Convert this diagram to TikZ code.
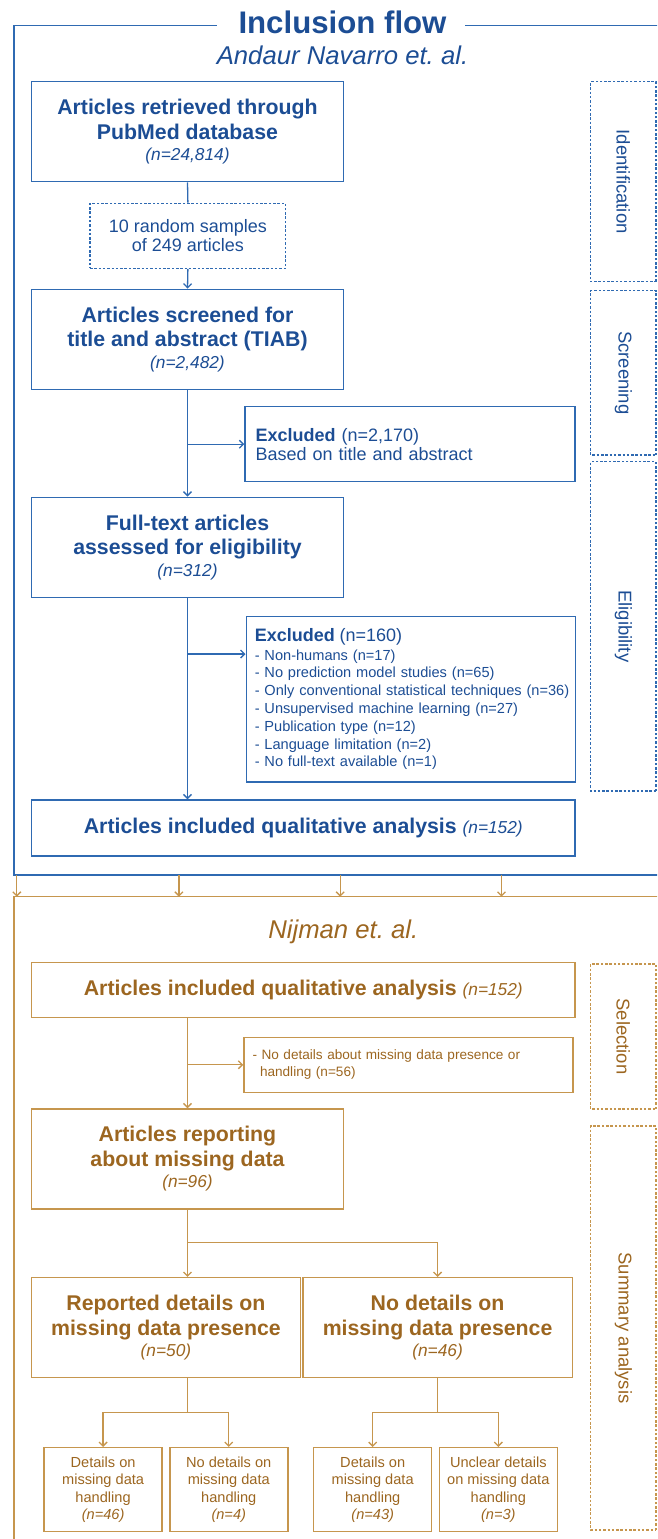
\documentclass[tikz,border=0pt]{standalone}
\usepackage{fontspec}
\setmainfont{Liberation Sans}
\usetikzlibrary{positioning, arrows.meta, calc}
\frenchspacing

\definecolor{bluline}{RGB}{47,106,178}
\definecolor{blutext}{RGB}{28,77,148}
\definecolor{oroline}{RGB}{198,150,78}
\definecolor{orotext}{RGB}{156,102,32}

\newcommand{\fhead}{\fontsize{21.3}{24.5}\selectfont\bfseries}
\newcommand{\fcount}{\fontsize{17.3}{18}\selectfont\mdseries\itshape}
\newcommand{\fexcl}{\fontsize{18}{19}\selectfont}
\newcommand{\flist}{\fontsize{14.6}{17.77}\selectfont}
\newcommand{\fsmall}{\fontsize{14.6}{17.5}\selectfont}
\newcommand{\ffase}{\fontsize{18.5}{20}\selectfont}

\tikzset{
	box/.style={draw, line width=1.5pt, rectangle, inner sep=0pt, align=center},
	bluebox/.style={box, draw=bluline, text=blutext},
	orobox/.style={box, draw=oroline, text=orotext},
	esclbox/.style={draw, line width=1.5pt, rectangle, inner xsep=8.5pt, inner ysep=0pt, align=left, text width=312pt},
	fase/.style={draw, dash pattern=on 2.5pt off 1.8pt, line width=1.2pt, rectangle, rotate=-90, minimum height=65.3pt, inner sep=0pt, font=\ffase},
	freccia/.style={-{Straight Barb[length=4pt,width=8pt]}, line width=1.3pt},
}

\begin{document}
\begin{tikzpicture}[x=1pt, y=-1pt]
		\useasboundingbox (0,0) rectangle (657,1539);
		\clip (0,0) rectangle (657,1539);
		
		%Cornici
		\draw[bluline, line width=1.5pt] (216.7,25.5) -| (13.8,875) -- (665,875);
		\draw[bluline, line width=1.5pt] (465,25.5) -- (665,25.5);
		\draw[oroline, line width=1.5pt] (665,896.7) -| (13.8,1545);
		
		%Titoli
		\node(titolo) at (342.5,33.3) [anchor=base, text=blutext, font=\fontsize{31.2}{34}\selectfont\bfseries]{Inclusion flow};
		\node(autori1) at (342.5,64) [anchor=base, text=blutext, font=\fontsize{25.7}{28}\selectfont\itshape]{Andaur Navarro et. al.};
		\node(autori2) at (343.3,938.3) [anchor=base, text=orotext, font=\fontsize{25.7}{28}\selectfont\itshape]{Nijman et. al.};
		
		%Blocchi - parte blu
		\node(recupero) at (187.5,131.7) [bluebox, minimum width=312pt, minimum height=100pt, font=\fhead]{Articles retrieved through\\PubMed database\\[-3pt]\fcount (n=24,814)};
		\node(campioni) at (187.9,235.8) [bluebox, dash pattern=on 2.5pt off 1.8pt, line width=1.2pt, minimum width=195.7pt, minimum height=65pt, font=\fontsize{18}{19.3}\selectfont]{10 random samples\\of 249 articles};
		\node(screening) at (187.5,339.3) [bluebox, minimum width=312pt, minimum height=100pt, font=\fhead]{Articles screened for\\title and abstract (TIAB)\\[-3pt]\fcount (n=2,482)};
		\node(escl1) at (410,444.2) [esclbox, draw=bluline, text=blutext, inner xsep=10.5pt, text width=309pt, minimum height=75pt, font=\fexcl]{\textbf{Excluded} (n=2,170)\\Based on title and abstract};
		\node(fulltext) at (187.5,547.3) [bluebox, minimum width=312pt, minimum height=100pt, font=\fhead]{Full-text articles\\assessed for eligibility\\[-3pt]\fcount (n=312)};
		\node(escl2) at (410.75,699.3) [esclbox, draw=bluline, text=blutext, minimum height=165.3pt, font=\flist]{{\fexcl\textbf{Excluded} (n=160)}\\[0.6pt]
			- Non-humans (n=17)\\
			- No prediction model studies (n=65)\\
			\mbox{- Only conventional statistical techniques (n=36)}\\
			- Unsupervised machine learning (n=27)\\
			- Publication type (n=12)\\
			- Language limitation (n=2)\\
			- No full-text available (n=1)};
		\node(inclusi) at (303.3,828) [bluebox, minimum width=543.8pt, minimum height=56pt, font=\fhead]{Articles included qualitative analysis {\fcount (n=152)}};
		
		%Blocchi - parte oro
		\node(inclusi2) at (303.3,990) [orobox, minimum width=543.8pt, minimum height=54.6pt, font=\fhead]{Articles included qualitative analysis {\fcount (n=152)}};
		\node(escl3) at (408.5,1064.8) [esclbox, draw=oroline, text=orotext, minimum height=55pt, font=\fontsize{13.6}{16.7}\selectfont]{- No details about missing data presence or\\\hspace*{7.5pt}handling (n=56)};
		\node(riporto) at (187.5,1159) [orobox, minimum width=312pt, minimum height=100pt, font=\fhead]{Articles reporting\\about missing data\\[-3pt]\fcount (n=96)};
		\node(dettagli) at (165.9,1327.7) [orobox, minimum width=269pt, minimum height=100pt, font=\fhead]{Reported details on\\missing data presence\\[-3pt]\fcount (n=50)};
		\node(nodettagli) at (437.6,1327.7) [orobox, minimum width=269.4pt, minimum height=100pt, font=\fhead]{No details on\\missing data presence\\[-3pt]\fcount (n=46)};
		\node(gest1) at (103.1,1489.7) [orobox, minimum width=118pt, minimum height=84pt, font=\fsmall]{Details on\\missing data\\handling\\\itshape (n=46)};
		\node(gest2) at (228.75,1489.7) [orobox, minimum width=118pt, minimum height=84pt, font=\fsmall]{No details on\\missing data\\handling\\\itshape (n=4)};
		\node(gest3) at (372.7,1489.7) [orobox, minimum width=118pt, minimum height=84pt, font=\fsmall]{Details on\\missing data\\handling\\\itshape (n=43)};
		\node(gest4) at (498.3,1489.7) [orobox, minimum width=118pt, minimum height=84pt, font=\fsmall]{Unclear details\\on missing data\\handling\\\itshape (n=3)};
		
		%Fasi sul lato destro
		\node(fIdent) at (623.35,181.7) [fase, draw=bluline, text=blutext, minimum width=200pt]{Identification};
		\node(fScreen) at (623.35,372.85) [fase, draw=bluline, text=blutext, minimum width=164.3pt]{Screening};
		\node(fElig) at (623.35,626.35) [fase, draw=bluline, text=blutext, minimum width=329.3pt]{Eligibility};
		\node(fSel) at (623.35,1036.5) [fase, draw=oroline, text=orotext, minimum width=145pt]{Selection};
		\node(fSumm) at (623.35,1328) [fase, draw=oroline, text=orotext, minimum width=404pt]{Summary analysis};
		
		%Collegamenti - parte blu
		\draw[bluline, line width=1.3pt] (recupero.south) -- (campioni.north);
		\draw[freccia, bluline] (campioni.south) -- (screening.north);
		\draw[freccia, bluline] (screening.south) -- (fulltext.north);
		\draw[freccia, bluline] (screening.south |- escl1.west) -- (escl1.west);
		\coordinate (split2) at (187.5,654);
		\draw[freccia, bluline] (split2) -- (split2 -| escl2.west);
		\draw[freccia, bluline] (fulltext.south) -- (fulltext.south |- inclusi.north);
		
		%Passaggio tra le due parti
		\foreach \x in {16.8,178.9,340.2,501.5}
		\draw[freccia, oroline] (\x,875) -- (\x,896.7);
		
		%Collegamenti - parte oro
		\draw[freccia, oroline] (riporto.north |- inclusi2.south) -- (riporto.north);
		\draw[freccia, oroline] (riporto.north |- escl3.west) -- (escl3.west);
		\coordinate (j1) at (187.5,1242.7);
		\draw[oroline, line width=1.3pt] (riporto.south) -- (j1);
		\draw[freccia, oroline] (j1) -- (j1 |- dettagli.north);
		\draw[freccia, oroline] (j1) -| (nodettagli.north);
		\coordinate (j2) at (187.5,1412.3);
		\draw[oroline, line width=1.3pt] (j2 |- dettagli.south) -- (j2);
		\draw[freccia, oroline] (j2) -| (gest1.north);
		\draw[freccia, oroline] (j2) -| (gest2.north);
		\coordinate (j3) at (nodettagli.south |- j2);
		\draw[oroline, line width=1.3pt] (nodettagli.south) -- (j3);
		\draw[freccia, oroline] (j3) -| (gest3.north);
		\draw[freccia, oroline] (j3) -| (gest4.north);
		
\end{tikzpicture}
\end{document}
